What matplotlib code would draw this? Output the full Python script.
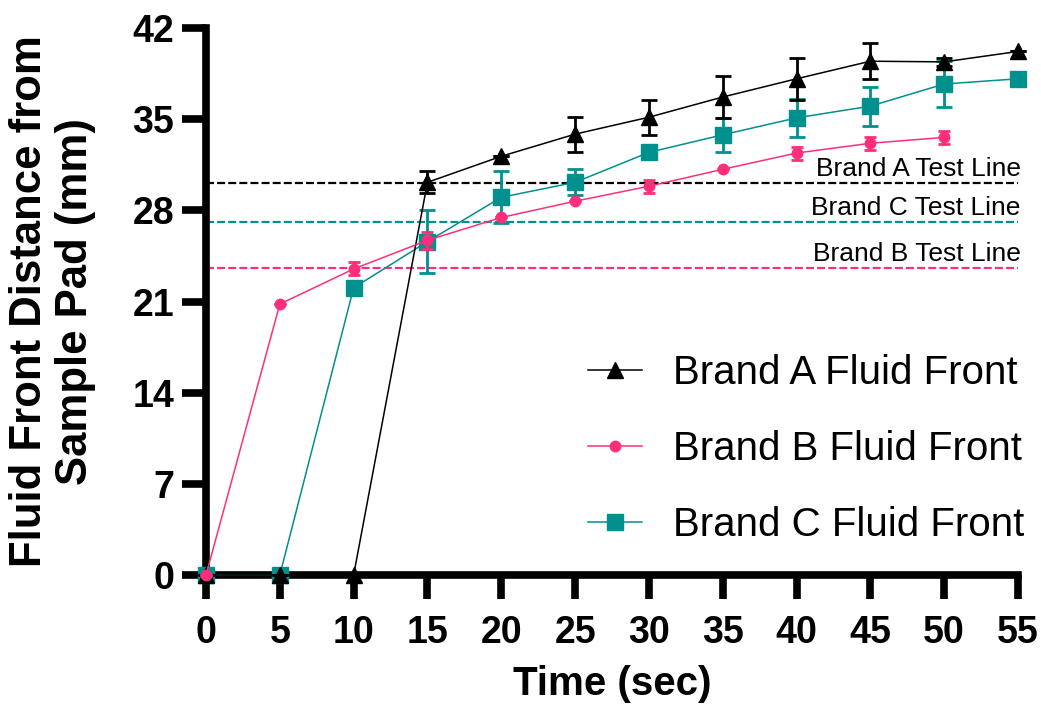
import numpy as np
import matplotlib
matplotlib.use("Agg")
import matplotlib.pyplot as plt

# data
time = [0, 5, 10, 15, 20, 25, 30, 35, 40, 45, 50, 55]
brand_a = [0, 0, 0, 30.15, 32.15, 33.85, 35.15, 36.7, 38.1, 39.45, 39.4, 40.2]
brand_a_err = [0, 0, 0, 0.85, 0, 1.35, 1.35, 1.6, 1.6, 1.4, 0.3, 0]
time_b = [0, 5, 10, 15, 20, 25, 30, 35, 40, 45, 50]
brand_b = [0, 20.8, 23.5, 25.7, 27.45, 28.7, 29.85, 31.15, 32.4, 33.15, 33.6]
brand_b_err = [0, 0, 0.5, 0.65, 0, 0, 0.5, 0, 0.5, 0.5, 0.5]
brand_c = [0, 0, 22.05, 25.6, 29.0, 30.15, 32.45, 33.8, 35.1, 36.0, 37.7, 38.1]
brand_c_err = [0, 0, 0.3, 2.4, 2.0, 1.0, 0, 1.3, 1.45, 1.5, 1.8, 0]
test_lines = {"Brand A Test Line": 30.1, "Brand C Test Line": 27.1, "Brand B Test Line": 23.6}
xticks = list(range(0, 56, 5))
yticks = [0, 7, 14, 21, 28, 35, 42]

black = "#000000"
pink = "#FF2E7B"
teal = "#00908E"
font = "Liberation Sans"

fig = plt.figure(figsize=(10.41, 7.15), dpi=100)
ax = fig.add_axes([206/1041, 1 - 575/715, (1018-206)/1041, (575-28)/715])

# dashed test lines with their labels
line_cols = {"Brand A Test Line": black, "Brand C Test Line": teal, "Brand B Test Line": pink}
for name, yv in test_lines.items():
    ax.plot([0, 55], [yv, yv], color=line_cols[name], lw=1.6,
            linestyle=(0, (3.6, 1.4)), zorder=2)
    ax.annotate(name, (55, yv), xytext=(2, 5), textcoords="offset points",
                ha="right", va="baseline", fontsize=19, family=font)

hc = ax.errorbar(time, brand_c, yerr=brand_c_err, color=teal, marker="s", markersize=12,
                 lw=1.1, elinewidth=2, capsize=6, capthick=2, zorder=4, clip_on=False)
ha = ax.errorbar(time, brand_a, yerr=brand_a_err, color=black, marker="^", markersize=11,
                 lw=1.1, elinewidth=2, capsize=6, capthick=2, zorder=5, clip_on=False)
hb = ax.errorbar(time_b, brand_b, yerr=brand_b_err, color=pink, marker="o", markersize=7.5,
                 lw=1.1, elinewidth=2, capsize=4, capthick=2, zorder=6, clip_on=False)
for h in (ha, hb, hc):
    for c in list(h[1]) + list(h[2]):
        c.set_clip_on(False)

ax.set_xlim(0, 55)
ax.set_ylim(0, 42)
ax.set_xticks(xticks)
ax.set_yticks(yticks)
for s in ["top", "right"]:
    ax.spines[s].set_visible(False)
for s in ["left", "bottom"]:
    ax.spines[s].set_linewidth(5.5)
    ax.spines[s].set_zorder(3)
ax.tick_params(axis="both", direction="out", length=17, width=5.5)
ax.tick_params(axis="x", pad=12)
ax.tick_params(axis="y", pad=6)
for lab in ax.get_xticklabels() + ax.get_yticklabels():
    lab.set_family(font)
    lab.set_fontweight("bold")
    lab.set_fontsize(27)

ax.set_xlabel("Time (sec)", fontsize=29, fontweight="bold", family=font, labelpad=10)
ax.set_ylabel("Fluid Front Distance from\nSample Pad (mm)", fontsize=31.5, fontweight="bold",
              family=font, labelpad=26, linespacing=1.15)

leg = ax.legend([ha[0], hb[0], hc[0]],
                ["Brand A Fluid Front", "Brand B Fluid Front", "Brand C Fluid Front"],
                loc="center left",
                bbox_to_anchor=(588/1041, 1 - 449/715), bbox_transform=fig.transFigure,
                frameon=False, prop={"family": font, "size": 29},
                handlelength=1.35, handletextpad=0.75, labelspacing=0.95,
                borderpad=0, borderaxespad=0)

fig.savefig("out.png", dpi=100)
